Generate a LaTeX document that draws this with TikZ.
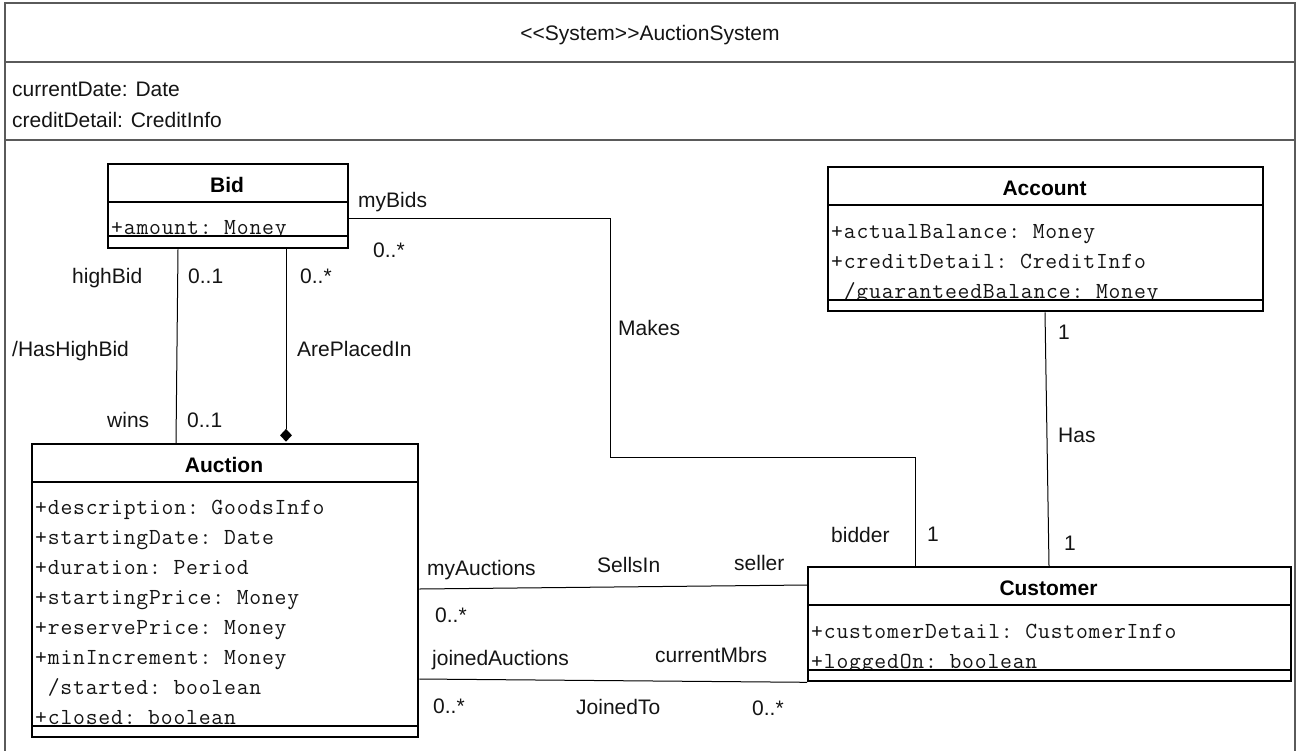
\documentclass[tikz,border=0pt]{standalone}
\usepackage{fontspec}
\setmainfont{Liberation Sans}[Ligatures=TeXOff]
\setmonofont{Latin Modern Mono}[LetterSpace=3.5]
\usetikzlibrary{shapes.geometric}
\newcommand\fsz{\fontsize{21}{25}\selectfont}
\newcommand\msz{\fontsize{23}{27}\selectfont}
\definecolor{framecol}{RGB}{90,90,90}
\definecolor{txt}{RGB}{20,20,20}
\tikzset{
  box/.style={draw=black, line width=2.3pt, inner sep=0pt, anchor=north west},
  sepline/.style={draw=black, line width=2.3pt},
  frameline/.style={draw=framecol, line width=1.5pt},
  conn/.style={draw=black, line width=1pt},
  lbl/.style={anchor=base west, inner sep=0pt, font=\fsz, text=txt},
  attr/.style={anchor=base west, inner sep=0pt, font=\msz\ttfamily, text=txt},
  ttl/.style={anchor=base, inner sep=0pt, font=\fsz\bfseries, text=black},
  uline/.style={draw=txt, line width=1pt},
}
\begin{document}
\begin{tikzpicture}[x=1pt, y=-1pt]
\useasboundingbox (0,0) rectangle (1300,750);

% ---------- outer system frame ----------
\draw[frameline] (5,752) -- (5,3) -- (1295,3) -- (1295,752);
\coordinate (fl1) at (5,62);  \coordinate (fr1) at (1295,62);
\coordinate (fl2) at (5,140); \coordinate (fr2) at (1295,140);
\draw[frameline] (fl1) -- (fr1);
\draw[frameline] (fl2) -- (fr2);
\node[ttl, font=\fsz, text=txt] (systitle) at (650,40) {<<System>>AuctionSystem};
\node[lbl] (sa1) at (12,96) {currentDate: Date};
\node[lbl] (sa2) at (12,127) {creditDetail: CreditInfo};

% ---------- attribute texts (drawn first, clipped by fills) ----------
% Bid
\node[attr] (bida1) at (111,234) {+amount: Money};
% Account
\node[attr] (acca1) at (831,238) {+actualBalance: Money};
\node[attr] (acca2) at (831,268) {+creditDetail: CreditInfo};
\node[attr] (acca3) at (831,298) {\ /guaranteedBalance: Money};
% Auction
\node[attr] (auca1) at (35,514) {+description: GoodsInfo};
\node[attr] (auca2) at (35,544) {+startingDate: Date};
\node[attr] (auca3) at (35,574) {+duration: Period};
\node[attr] (auca4) at (35,604) {+startingPrice: Money};
\node[attr] (auca5) at (35,634) {+reservePrice: Money};
\node[attr] (auca6) at (35,664) {+minIncrement: Money};
\node[attr] (auca7) at (35,694) {\ /started: boolean};
\node[attr] (auca8) at (35,724) {+closed: boolean};
% Customer
\node[attr] (cusa1) at (811,638) {+customerDetail: CustomerInfo};
\node[attr] (cusa2) at (811,668) {+loggedOn: boolean};

% underlines of the last attributes
\draw[uline] ([yshift=-1.5pt]bida1.base west) -- ([yshift=-1.5pt]bida1.base east);
\draw[uline] ([yshift=-1.5pt]acca3.base west) -- ([yshift=-1.5pt]acca3.base east);
\draw[uline] ([yshift=-1.5pt]auca8.base west) -- ([yshift=-1.5pt]auca8.base east);
\draw[uline] ([yshift=-1.5pt]cusa2.base west) -- ([yshift=-1.5pt]cusa2.base east);

% white bottom compartments (hide descenders)
\fill[white] (107,236) rectangle (347,247);
\fill[white] (827,300) rectangle (1262,310);
\fill[white] (31,726) rectangle (417,736);
\fill[white] (807,670) rectangle (1290,680);

% ---------- class boxes ----------
\node[box, minimum width=240pt, minimum height=84pt] (bid) at (107,163) {};
\draw[sepline] (bid.west |- 0,202) -- (bid.east |- 0,202);
\draw[sepline] (bid.west |- 0,236) -- (bid.east |- 0,236);
\node[ttl] (bidt) at (227,192.5) {Bid};

\node[box, minimum width=435pt, minimum height=144pt] (account) at (827,166) {};
\draw[sepline] (account.west |- 0,205) -- (account.east |- 0,205);
\draw[sepline] (account.west |- 0,300) -- (account.east |- 0,300);
\node[ttl] (acct) at (1044.5,195.5) {Account};

\node[box, minimum width=386pt, minimum height=293pt] (auction) at (31,443) {};
\draw[sepline] (auction.west |- 0,482) -- (auction.east |- 0,482);
\draw[sepline] (auction.west |- 0,726) -- (auction.east |- 0,726);
\node[ttl] (auct) at (224,472.5) {Auction};

\node[box, minimum width=483pt, minimum height=114pt] (customer) at (807,566) {};
\draw[sepline] (customer.west |- 0,605) -- (customer.east |- 0,605);
\draw[sepline] (customer.west |- 0,670) -- (customer.east |- 0,670);
\node[ttl] (cust) at (1048.5,595.5) {Customer};

% ---------- connectors ----------
% HasHighBid
\draw[conn] (178,0 |- bid.south) -- (176,0 |- auction.north);
% ArePlacedIn (composite)
\node[diamond, fill=black, inner sep=0pt, minimum width=12pt, minimum height=13pt, anchor=south] (dia) at (286,442) {};
\draw[conn] (286,0 |- bid.south) -- (dia.north);
% Makes
\coordinate (mk1) at (610,218);
\coordinate (mk2) at (610,457);
\coordinate (mk3) at (915,457);
\draw[conn] (bid.east |- mk1) -- (mk1) -- (mk2) -- (mk3) -- (mk3 |- customer.north);
% Has
\draw[conn] (1045,0 |- account.south) -- (1049,0 |- customer.north);
% SellsIn
\draw[conn] (auction.east |- 0,589) -- (customer.west |- 0,585);
% JoinedTo
\draw[conn] (auction.east |- 0,679) -- (customer.south west);

% ---------- connector labels ----------
\node[lbl] (l1) at (358,207) {myBids};
\node[lbl] (l2) at (373,257) {0..*};
\node[lbl] (l3) at (72,283) {highBid};
\node[lbl] (l4) at (188,283) {0..1};
\node[lbl] (l5) at (300,283) {0..*};
\node[lbl] (l6) at (12,356) {/HasHighBid};
\node[lbl] (l7) at (297,356) {ArePlacedIn};
\node[lbl] (l8) at (107,427) {wins};
\node[lbl] (l9) at (187,427) {0..1};
\node[lbl] (l10) at (618,335) {Makes};
\node[lbl] (l11) at (1058,339) {1};
\node[lbl] (l12) at (1058,442) {Has};
\node[lbl] (l13) at (1064,550) {1};
\node[lbl] (l14) at (831,542) {bidder};
\node[lbl] (l15) at (927,541) {1};
\node[lbl] (l16) at (427,575) {myAuctions};
\node[lbl] (l17) at (597,572) {SellsIn};
\node[lbl] (l18) at (734,570) {seller};
\node[lbl] (l19) at (435,622) {0..*};
\node[lbl] (l20) at (432,665) {joinedAuctions};
\node[lbl] (l21) at (655,662) {currentMbrs};
\node[lbl] (l22) at (433,713) {0..*};
\node[lbl] (l23) at (576,714) {JoinedTo};
\node[lbl] (l24) at (752,715) {0..*};
\end{tikzpicture}
\end{document}
